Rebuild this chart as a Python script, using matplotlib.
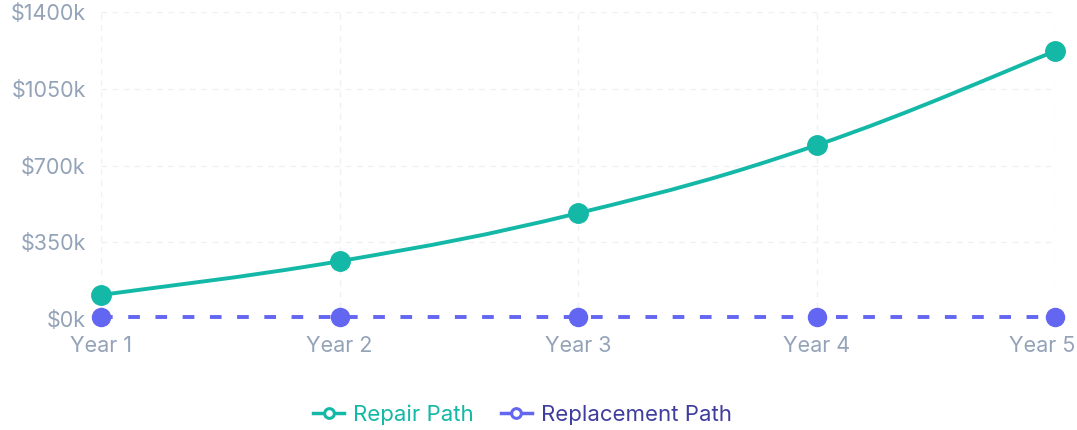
import numpy as np
import matplotlib
matplotlib.use("Agg")
import matplotlib.pyplot as plt
import matplotlib.transforms as mtransforms
from matplotlib.path import Path
from matplotlib.patches import PathPatch
from matplotlib.lines import Line2D

years = ["Year 1", "Year 2", "Year 3", "Year 4", "Year 5"]
repair_path = [110, 264, 483, 793, 1222]        # $k
replacement_path = [10, 10, 10, 10, 10]         # $k
y_ticks = [0, 350, 700, 1050, 1400]

TEAL = "#14b8a6"
INDIGO = "#6366f1"
LABEL = "#94a3b8"

plt.rcParams["font.family"] = ["Inter", "DejaVu Sans"]


def smooth_path(xs, ys, tension=0.4):
    # bezier control points similar to a chart.js tension curve
    xs = np.asarray(xs, float)
    ys = np.asarray(ys, float)
    verts = [(xs[0], ys[0])]
    codes = [Path.MOVETO]
    n = len(xs)
    for i in range(n - 1):
        p0 = (xs[max(i - 1, 0)], ys[max(i - 1, 0)])
        p1 = (xs[i], ys[i])
        p2 = (xs[i + 1], ys[i + 1])
        p3 = (xs[min(i + 2, n - 1)], ys[min(i + 2, n - 1)])
        c1 = (p1[0] + (p2[0] - p0[0]) * tension / 2, p1[1] + (p2[1] - p0[1]) * tension / 2)
        c2 = (p2[0] - (p3[0] - p1[0]) * tension / 2, p2[1] - (p3[1] - p1[1]) * tension / 2)
        verts += [c1, c2, p2]
        codes += [Path.CURVE4] * 3
    return Path(verts, codes)


fig = plt.figure(figsize=(10.77, 4.3), dpi=100)
ax = fig.add_axes([0.0938, 0.258, 0.886, 0.714])

x = np.arange(len(years))
ax.add_patch(PathPatch(smooth_path(x, repair_path), fill=False, edgecolor=TEAL,
                       lw=2.8, capstyle="round", zorder=3))
ax.plot(x, repair_path, "o", color=TEAL, ms=14, zorder=4, clip_on=False)

ax.plot(x, replacement_path, color=INDIGO, lw=2.8, dashes=(3, 4), zorder=3)
ax.plot(x, replacement_path, "o", color=INDIGO, ms=13, zorder=4, clip_on=False)

ax.set_xlim(0, len(years) - 1)
ax.set_ylim(0, 1400)
ax.set_xticks(x, years)
ax.set_yticks(y_ticks, [f"${v}k" for v in y_ticks])
ax.tick_params(length=0, labelsize=15.5, colors=LABEL)
ax.tick_params(axis="x", pad=12)
ax.tick_params(axis="y", pad=11)
for s in ax.spines.values():
    s.set_visible(False)
ax.grid(True, color="#eef0f3", lw=1, ls=(0, (4, 4)))
ax.set_axisbelow(True)

# keep the last x label inside the figure
last = ax.get_xticklabels()[-1]
last.set_horizontalalignment("right")
last.set_transform(last.get_transform() + mtransforms.ScaledTranslation(0.2, 0, fig.dpi_scale_trans))

handles = [
    Line2D([], [], color=TEAL, lw=2.5, marker="o", ms=7, mfc="white", mew=2.2),
    Line2D([], [], color=INDIGO, lw=2.5, marker="o", ms=7, mfc="white", mew=2.2),
]
leg = fig.legend(handles, ["Repair Path", "Replacement Path"], loc="center",
                 bbox_to_anchor=(0.485, 0.036), ncol=2, frameon=False, fontsize=16,
                 handlelength=1.4, handletextpad=0.4, columnspacing=1.2)
leg.get_texts()[0].set_color(TEAL)
leg.get_texts()[1].set_color("#3f3d9e")

fig.savefig("out.png", dpi=100)
